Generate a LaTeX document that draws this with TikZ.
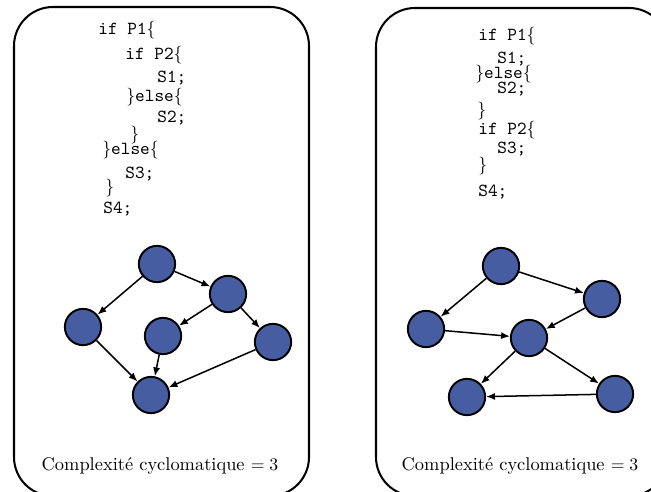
\documentclass[tikz,border=0pt]{standalone}
\usetikzlibrary{arrows.meta}
\definecolor{nodeblue}{RGB}{70,94,161}
\begin{document}
\fontsize{10.4pt}{12.5pt}\selectfont
\begin{tikzpicture}[x=0.565pt,y=-0.565pt,
  panel/.style={draw=black,line width=1.15pt,rounded corners=22pt},
  vtx/.style={circle,draw=black,fill=nodeblue,line width=1.1pt,minimum size=20.5pt,inner sep=0pt},
  edge/.style={line width=0.85pt,-{Latex[length=5pt,width=4pt]}},
  code/.style={anchor=base west,inner sep=0pt,font=\ttfamily},
  caption/.style={anchor=base,inner sep=0pt}
]
\useasboundingbox (0,0) rectangle (651,492);
\clip (0,0) rectangle (651,492);
\draw[panel] (14,7) rectangle (309,496);
\draw[panel] (376,8) rectangle (668,496);
% left code
\node[code] (lc1) at (98,35) {if P1$\{$};
\node[code] (lc2) at (125,60) {if P2$\{$};
\node[code] (lc3) at (157,83) {S1;};
\node[code] (lc4) at (126,102) {$\}$else$\{$};
\node[code] (lc5) at (157,123) {S2;};
\node[code] (lc6) at (130,140) {$\}$};
\node[code] (lc7) at (102,155) {$\}$else$\{$};
\node[code] (lc8) at (125,179) {S3;};
\node[code] (lc9) at (105,193) {$\}$};
\node[code] (lc10) at (103,214) {S4;};
% right code
\node[code] (rc1) at (478,41) {if P1$\{$};
\node[code] (rc2) at (497,64) {S1;};
\node[code] (rc3) at (475,79) {$\}$else$\{$};
\node[code] (rc4) at (497,94) {S2;};
\node[code] (rc5) at (477,116) {$\}$};
\node[code] (rc6) at (478,135) {if P2$\{$};
\node[code] (rc7) at (497,154) {S3;};
\node[code] (rc8) at (478,171) {$\}$};
\node[code] (rc9) at (478,197) {S4;};
% left graph
\node[vtx] (l1) at (157,264) {};
\node[vtx] (l2) at (228,294) {};
\node[vtx] (l3) at (83,327) {};
\node[vtx] (l4) at (163,336) {};
\node[vtx] (l5) at (273,342) {};
\node[vtx] (l6) at (151,395) {};
\draw[edge] (l1) -- (l3);
\draw[edge] (l1) -- (l2);
\draw[edge] (l2) -- (l4);
\draw[edge] (l2) -- (l5);
\draw[edge] (l3) -- (l6);
\draw[edge] (l4) -- (l6);
\draw[edge] (l5) -- (l6);
% right graph
\node[vtx] (r1) at (501,266) {};
\node[vtx] (r2) at (602,299) {};
\node[vtx] (r3) at (426,329) {};
\node[vtx] (r4) at (529,338) {};
\node[vtx] (r5) at (615,394) {};
\node[vtx] (r6) at (467,397) {};
\draw[edge] (r1) -- (r3);
\draw[edge] (r1) -- (r2);
\draw[edge] (r2) -- (r4);
\draw[edge] (r3) -- (r4);
\draw[edge] (r4) -- (r6);
\draw[edge] (r4) -- (r5);
\draw[edge] (r5) -- (r6);
% captions
\node[caption] (lcap) at (160,470) {Complexité cyclomatique $=3$};
\node[caption] (rcap) at (520,470) {Complexité cyclomatique $=3$};
\end{tikzpicture}
\end{document}
